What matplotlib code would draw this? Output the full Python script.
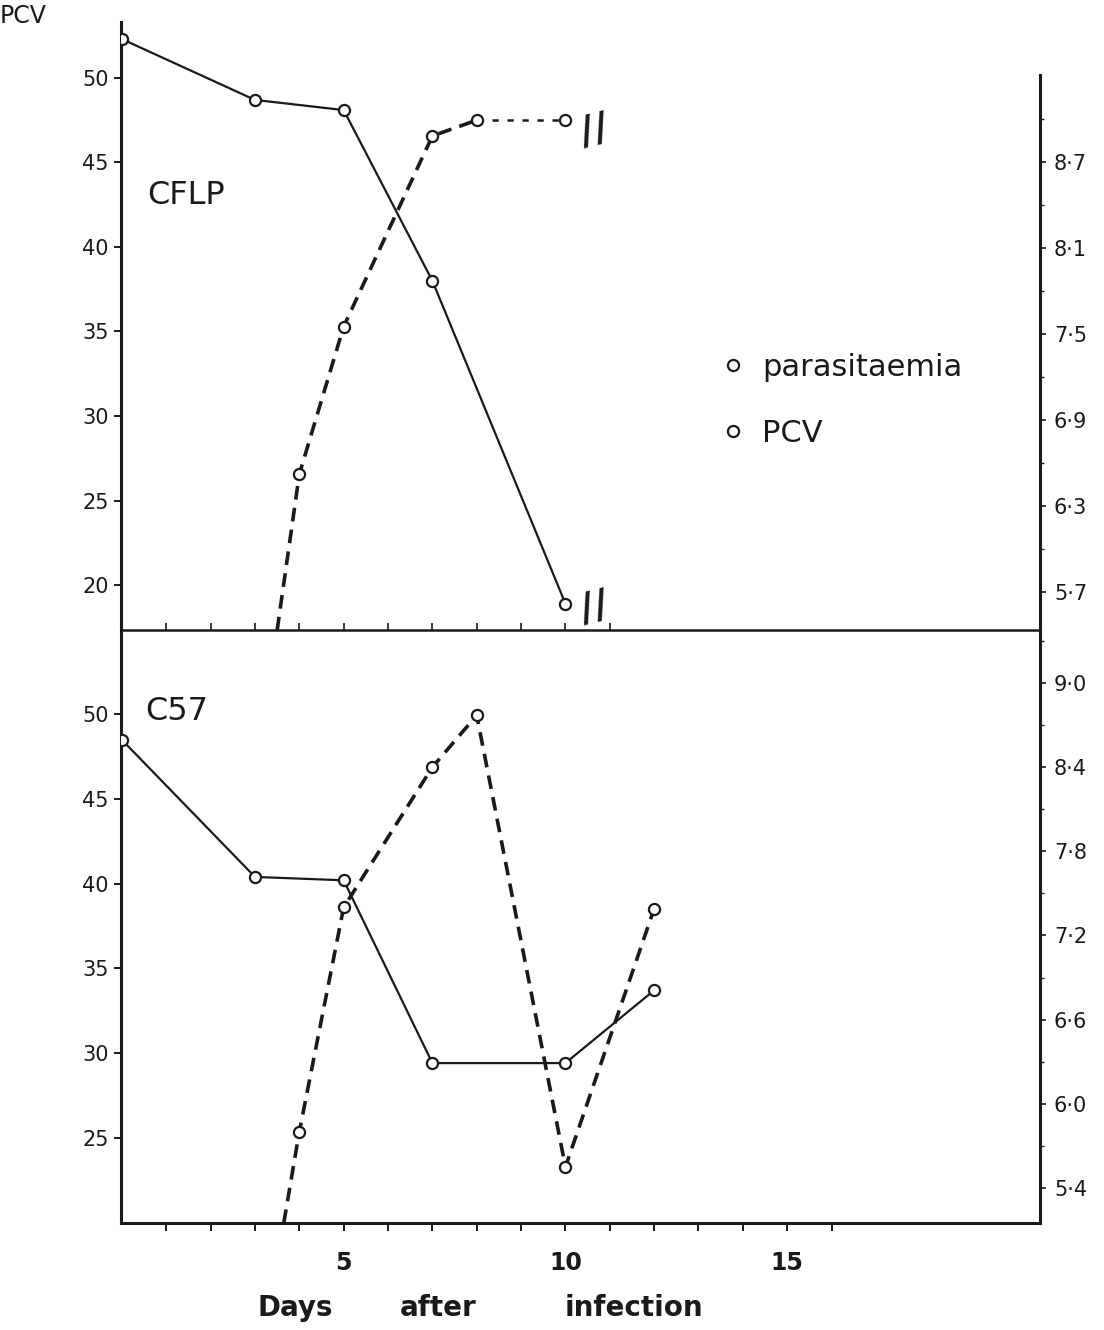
import matplotlib.pyplot as plt
from matplotlib.lines import Line2D
from matplotlib.ticker import FuncFormatter

plt.rcParams['font.family'] = ['DejaVu Sans']
INK = '#1a1a1a'

# CFLP mice (upper panel)
cflp_pcv_days = [0, 3, 5, 7, 10]
cflp_pcv = [52.3, 48.7, 48.1, 38.0, 18.9]
# first entry is where the curve enters from below the scale (no point plotted)
cflp_para_days = [3.5, 4, 5, 7, 8, 10]
cflp_para = [5.43, 6.52, 7.55, 8.88, 8.99, 8.99]

# C57 mice (lower panel)
c57_pcv_days = [0, 3, 5, 7, 10, 12]
c57_pcv = [48.5, 40.4, 40.2, 29.4, 29.4, 33.7]
c57_para_days = [3.65, 4, 5, 7, 8, 10, 12]
c57_para = [5.15, 5.80, 7.40, 8.40, 8.77, 5.55, 7.39]

left_ticks_top = [20, 25, 30, 35, 40, 45, 50]
left_ticks_bot = [25, 30, 35, 40, 45, 50]
right_ticks_top = [5.7, 6.3, 6.9, 7.5, 8.1, 8.7]
right_ticks_bot = [5.4, 6.0, 6.6, 7.2, 7.8, 8.4, 9.0]

W, H = 1104, 1330


def fx(px):
    return px / W


def fy(py):
    return 1 - py / H


fig = plt.figure(figsize=(W / 100, H / 100), dpi=100)
ax_top = fig.add_axes([fx(121), fy(630), fx(1040 - 121), (630 - 22) / H])
ax_bot = fig.add_axes([fx(121), fy(1223), fx(1040 - 121), (1223 - 630) / H])
ax_top_r = ax_top.twinx()
ax_bot_r = ax_bot.twinx()

dot_fmt = FuncFormatter(lambda v, p: f'{v:.1f}'.replace('.', '\u00b7'))

for ax in (ax_top, ax_bot):
    ax.set_xlim(-0.02, 20.7)
    for s in ('top', 'right'):
        ax.spines[s].set_visible(False)
    ax.spines['left'].set_linewidth(2.2)
    ax.spines['left'].set_color(INK)
    ax.tick_params(axis='y', direction='out', length=5, width=1.4,
                   labelsize=15, pad=4, colors=INK)
    ax.patch.set_visible(False)

for ax in (ax_top_r, ax_bot_r):
    for s in ('top', 'left', 'bottom'):
        ax.spines[s].set_visible(False)
    ax.spines['right'].set_linewidth(2.2)
    ax.spines['right'].set_color(INK)
    ax.yaxis.set_major_formatter(dot_fmt)
    ax.tick_params(axis='y', which='major', direction='out', length=4,
                   width=1.2, labelsize=15, pad=6, colors=INK)
    ax.tick_params(axis='y', which='minor', direction='out', length=3,
                   width=1.0, colors=INK)

# upper panel axes
ax_top.set_ylim(17.34, 53.31)
ax_top.set_yticks(left_ticks_top)
ax_top.set_xticks(range(1, 12))
ax_top.tick_params(axis='x', direction='in', length=5, width=1.2,
                   labelbottom=False, colors=INK)
ax_top.spines['bottom'].set_linewidth(1.8)
ax_top.spines['bottom'].set_color(INK)
ax_top_r.set_ylim(5.433, 9.675)
ax_top_r.spines['right'].set_bounds(5.433, 9.305)
ax_top_r.set_yticks(right_ticks_top)
ax_top_r.set_yticks([v + 0.3 for v in right_ticks_top], minor=True)

# lower panel axes
ax_bot.set_ylim(19.95, 54.99)
ax_bot.set_yticks(left_ticks_bot)
ax_bot.spines['bottom'].set_linewidth(2.2)
ax_bot.spines['bottom'].set_color(INK)
ax_bot.set_xticks(range(1, 17))
ax_bot.set_xticklabels([str(d) if d % 5 == 0 else '' for d in range(1, 17)],
                       fontweight='bold')
ax_bot.tick_params(axis='x', direction='out', length=6, width=1.4,
                   labelsize=17, pad=14, colors=INK)
ax_bot_r.set_ylim(5.15, 9.378)
ax_bot_r.set_yticks(right_ticks_bot)
ax_bot_r.set_yticks([v + 0.3 for v in right_ticks_bot], minor=True)

solid_kw = dict(color=INK, lw=1.6, zorder=3)
dash_kw = dict(color=INK, lw=2.6, dashes=(3.8, 2.3), zorder=3)
mark_kw = dict(ls='none', marker='o', ms=8, mfc='white', mec=INK, mew=1.6,
               zorder=4)

# CFLP curves
ax_top.plot(cflp_pcv_days, cflp_pcv, **solid_kw)
ax_top.plot(cflp_pcv_days, cflp_pcv, **mark_kw)
ax_top_r.plot(cflp_para_days[:-1], cflp_para[:-1], **dash_kw)
ax_top_r.plot(cflp_para_days[-2:], cflp_para[-2:], color=INK, lw=1.8,
              dashes=(2.5, 3.5), zorder=3)
ax_top_r.plot(cflp_para_days[1:], cflp_para[1:], **mark_kw)

# C57 curves
ax_bot.plot(c57_pcv_days, c57_pcv, **solid_kw)
ax_bot.plot(c57_pcv_days, c57_pcv, **mark_kw)
ax_bot_r.plot(c57_para_days, c57_para, **dash_kw)
ax_bot_r.plot(c57_para_days[1:], c57_para[1:], **mark_kw)

# break marks after day 10
for y in (46.9, 18.7):
    ax_top.text(10.65, y, '//', fontsize=28, fontweight='bold', color=INK,
                ha='center', va='center', rotation=14)

# labels
fig.text(fx(0), fy(16), 'PCV', fontsize=17, color=INK, va='center')
fig.text(fx(147), fy(196), 'CFLP', fontsize=23, color=INK, va='center')
fig.text(fx(145), fy(712), 'C57', fontsize=23, color=INK, va='center')
for word, x in (('Days', 257), ('after', 400), ('infection', 565)):
    fig.text(fx(x), fy(1308), word, fontsize=20, fontweight='bold',
             color=INK, va='center')

handles = [Line2D([], [], ls='none', marker='o', ms=8, mfc='white',
                  mec=INK, mew=1.6) for _ in range(2)]
fig.legend(handles, ['parasitaemia', 'PCV'], loc='upper left',
           bbox_to_anchor=(fx(718), fy(353)), frameon=False, fontsize=22,
           handlelength=1.0, handletextpad=0.45, labelspacing=1.2,
           borderpad=0, borderaxespad=0, labelcolor=INK)

fig.savefig('out.png', dpi=100)
